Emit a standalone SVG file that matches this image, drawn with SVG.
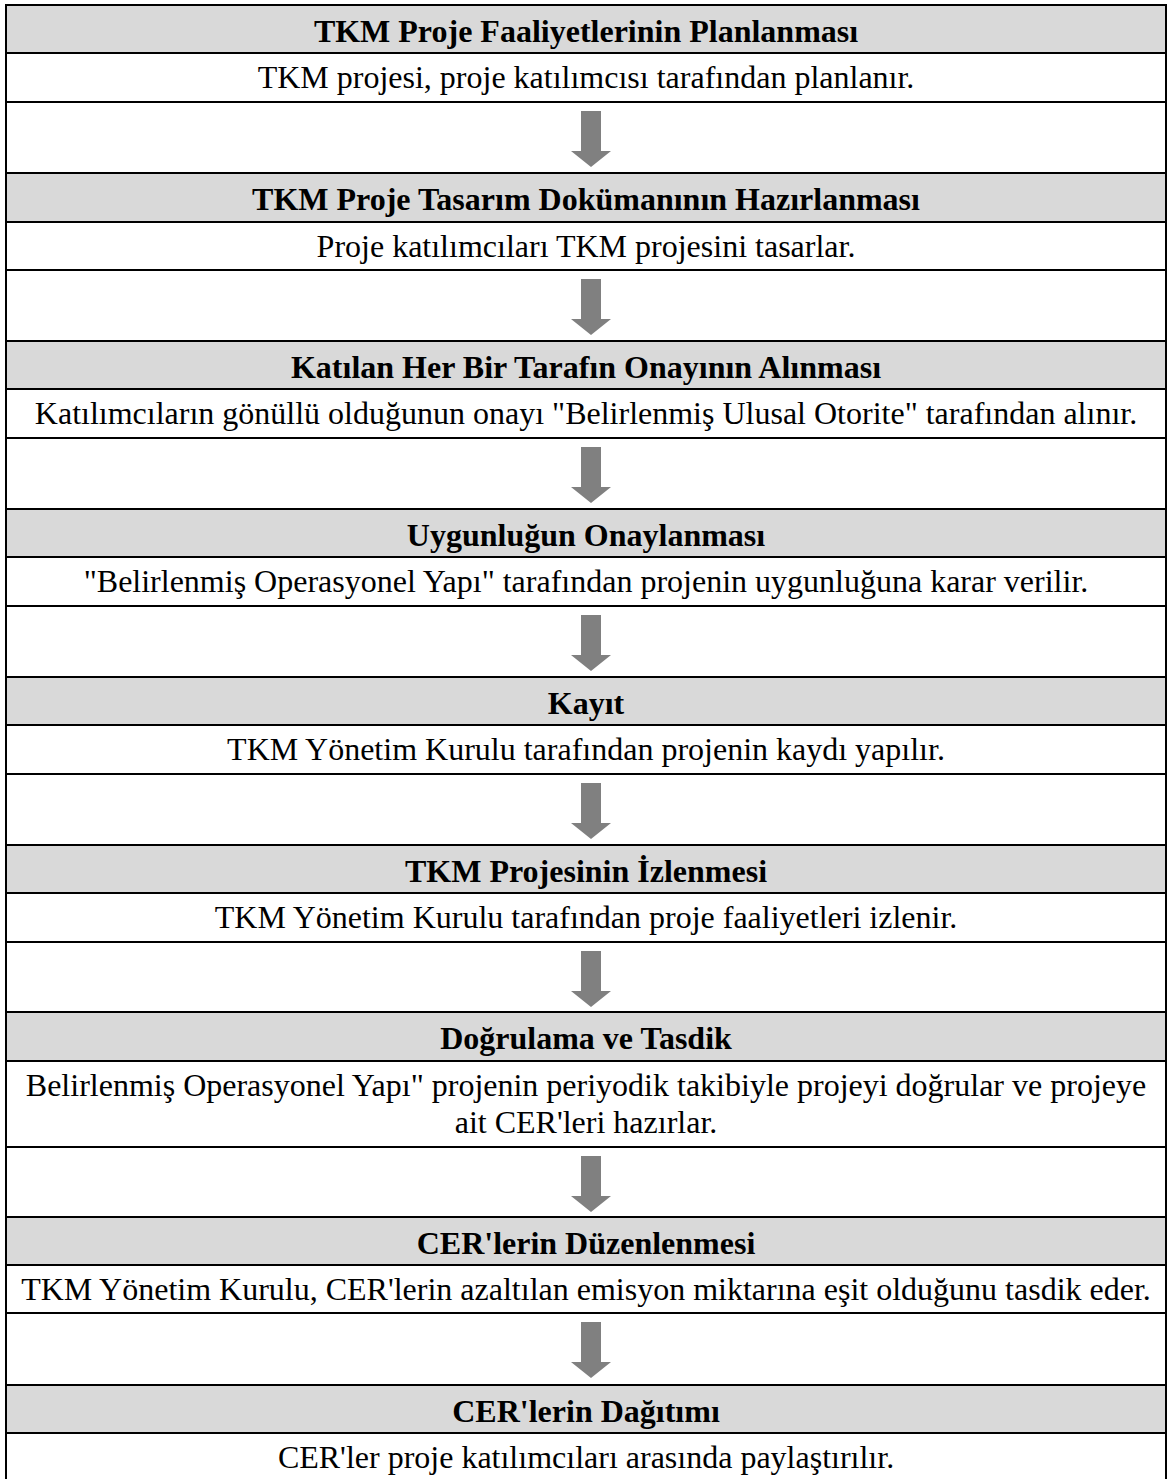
<svg xmlns="http://www.w3.org/2000/svg" xmlns:xlink="http://www.w3.org/1999/xlink" width="1169" height="1479" viewBox="0 0 1169 1479">
<style>
.hd{fill:#d9d9d9;stroke:#000;stroke-width:2}
.cell{fill:#fff;stroke:#000;stroke-width:2}
.ht{font-family:"Liberation Serif","Times New Roman",serif;font-size:32px;font-weight:bold;fill:#000;text-anchor:middle}
.tt{font-family:"Liberation Serif","Times New Roman",serif;font-size:32px;fill:#000;text-anchor:middle}
.arr{fill:#808080}
</style>
<defs>
<polygon id="down" class="arr" points="-10,0 10,0 10,40 20,40 0,56 -20,40 -10,40"/>
</defs>
<rect width="1169" height="1479" fill="#fff"/>
<g id="table-frame">
<rect class="cell" x="6" y="102" width="1160" height="71"/>
<rect class="cell" x="6" y="270" width="1160" height="71"/>
<rect class="cell" x="6" y="438" width="1160" height="71"/>
<rect class="cell" x="6" y="606" width="1160" height="71"/>
<rect class="cell" x="6" y="774" width="1160" height="71"/>
<rect class="cell" x="6" y="942" width="1160" height="70"/>
<rect class="cell" x="6" y="1147" width="1160" height="70"/>
<rect class="cell" x="6" y="1313" width="1160" height="72"/>
</g>
<g id="step1">
<rect class="hd" x="6" y="5" width="1160" height="48"/>
<text class="ht" x="586" y="42">TKM Proje Faaliyetlerinin Planlanması</text>
<rect class="cell" x="6" y="53" width="1160" height="49"/>
<text class="tt" x="586" y="88">TKM projesi, proje katılımcısı tarafından planlanır.</text>
</g>
<g id="step2">
<rect class="hd" x="6" y="173" width="1160" height="49"/>
<text class="ht" x="586" y="210">TKM Proje Tasarım Dokümanının Hazırlanması</text>
<rect class="cell" x="6" y="222" width="1160" height="48"/>
<text class="tt" x="586" y="257">Proje katılımcıları TKM projesini tasarlar.</text>
</g>
<g id="step3">
<rect class="hd" x="6" y="341" width="1160" height="48"/>
<text class="ht" x="586" y="378">Katılan Her Bir Tarafın Onayının Alınması</text>
<rect class="cell" x="6" y="389" width="1160" height="49"/>
<text class="tt" x="586" y="424">Katılımcıların gönüllü olduğunun onayı "Belirlenmiş Ulusal Otorite" tarafından alınır.</text>
</g>
<g id="step4">
<rect class="hd" x="6" y="509" width="1160" height="48"/>
<text class="ht" x="586" y="546">Uygunluğun Onaylanması</text>
<rect class="cell" x="6" y="557" width="1160" height="49"/>
<text class="tt" x="586" y="592">"Belirlenmiş Operasyonel Yapı" tarafından projenin uygunluğuna karar verilir.</text>
</g>
<g id="step5">
<rect class="hd" x="6" y="677" width="1160" height="48"/>
<text class="ht" x="586" y="714">Kayıt</text>
<rect class="cell" x="6" y="725" width="1160" height="49"/>
<text class="tt" x="586" y="760">TKM Yönetim Kurulu tarafından projenin kaydı yapılır.</text>
</g>
<g id="step6">
<rect class="hd" x="6" y="845" width="1160" height="48"/>
<text class="ht" x="586" y="882">TKM Projesinin İzlenmesi</text>
<rect class="cell" x="6" y="893" width="1160" height="49"/>
<text class="tt" x="586" y="928">TKM Yönetim Kurulu tarafından proje faaliyetleri izlenir.</text>
</g>
<g id="step7">
<rect class="hd" x="6" y="1012" width="1160" height="49"/>
<text class="ht" x="586" y="1049">Doğrulama ve Tasdik</text>
<rect class="cell" x="6" y="1061" width="1160" height="86"/>
<text class="tt" x="586" y="1096">Belirlenmiş Operasyonel Yapı" projenin periyodik takibiyle projeyi doğrular ve projeye</text>
<text class="tt" x="586" y="1133">ait CER'leri hazırlar.</text>
</g>
<g id="step8">
<rect class="hd" x="6" y="1217" width="1160" height="48"/>
<text class="ht" x="586" y="1254">CER'lerin Düzenlenmesi</text>
<rect class="cell" x="6" y="1265" width="1160" height="48"/>
<text class="tt" x="586" y="1300">TKM Yönetim Kurulu, CER'lerin azaltılan emisyon miktarına eşit olduğunu tasdik eder.</text>
</g>
<g id="step9">
<rect class="hd" x="6" y="1385" width="1160" height="48"/>
<text class="ht" x="586" y="1422">CER'lerin Dağıtımı</text>
<rect class="cell" x="6" y="1433" width="1160" height="60"/>
<text class="tt" x="586" y="1468">CER'ler proje katılımcıları arasında paylaştırılır.</text>
</g>
<g id="connectors">
<use xlink:href="#down" href="#down" x="591" y="111"/>
<use xlink:href="#down" href="#down" x="591" y="279"/>
<use xlink:href="#down" href="#down" x="591" y="447"/>
<use xlink:href="#down" href="#down" x="591" y="615"/>
<use xlink:href="#down" href="#down" x="591" y="783"/>
<use xlink:href="#down" href="#down" x="591" y="951"/>
<use xlink:href="#down" href="#down" x="591" y="1156"/>
<use xlink:href="#down" href="#down" x="591" y="1322"/>
</g>
</svg>
